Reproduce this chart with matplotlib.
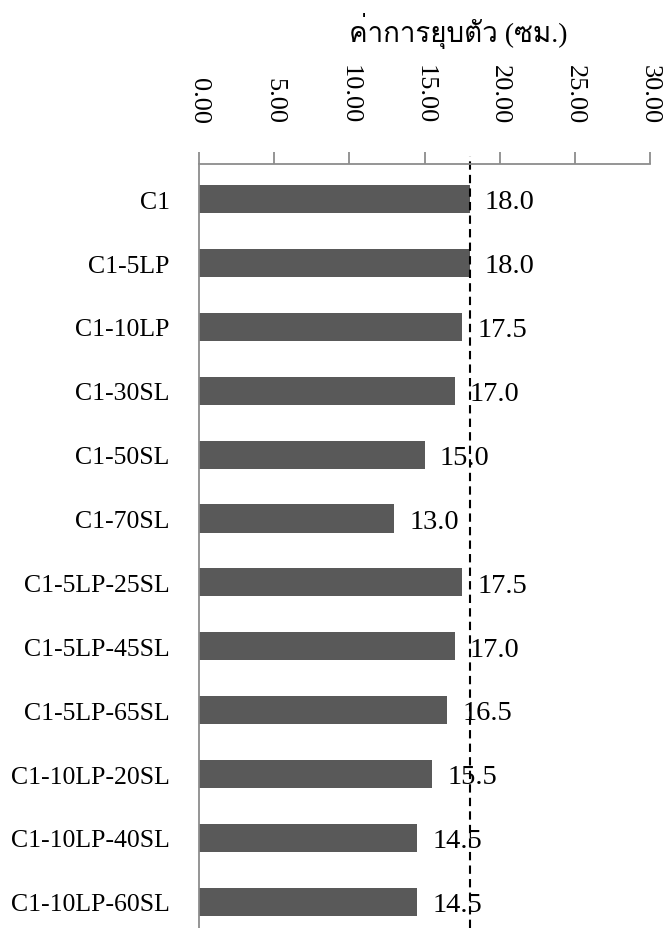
import matplotlib
matplotlib.use("Agg")
import matplotlib.pyplot as plt
from matplotlib import font_manager
from matplotlib.ft2font import FT2Font

labels = ["C1", "C1-5LP", "C1-10LP", "C1-30SL", "C1-50SL", "C1-70SL",
          "C1-5LP-25SL", "C1-5LP-45SL", "C1-5LP-65SL",
          "C1-10LP-20SL", "C1-10LP-40SL", "C1-10LP-60SL"]
slump = [18.0, 18.0, 17.5, 17.0, 15.0, 13.0, 17.5, 17.0, 16.5, 15.5, 14.5, 14.5]
xticks = [0, 5, 10, 15, 20, 25, 30]
limit = 18.0
title = "ค่าการยุบตัว (ซม.)"


def thai_family():
    # first installed font that has Thai glyphs
    for f in font_manager.fontManager.ttflist:
        try:
            if 0x0E04 in FT2Font(f.fname).get_charmap():
                return f.name
        except Exception:
            pass
    return "DejaVu Sans"


serif = "Liberation Serif"
plt.rcParams["font.family"] = [serif, "DejaVu Serif"]

fig = plt.figure(figsize=(6.71, 9.29), dpi=100)
ax = fig.add_axes([199 / 671, 0.0, 451 / 671, 764 / 929])

y = list(range(len(labels)))
ax.barh(y, slump, height=0.44, color="#595959")
ax.set_ylim(len(labels) - 1 + 0.41, -0.55)
ax.set_xlim(0, 30)

ax.axvline(limit, ymin=0, ymax=1.011, clip_on=False, color="black",
           linestyle=(0, (4, 2.5)), linewidth=1.5)

for yi, v in zip(y, slump):
    ax.annotate(f"{v:.1f}", (v, yi), xytext=(11, -2), textcoords="offset points",
                ha="left", va="center", fontsize=20.5)

ax.xaxis.tick_top()
ax.set_xticks(xticks)
ax.set_xticklabels([f"{t:.2f}" for t in xticks], rotation=-90, fontsize=19)
ax.tick_params(axis="x", direction="out", length=8.5, width=1.3,
               color="#8c8c8c", pad=21)
ax.set_yticks(y)
ax.set_yticklabels(labels, fontsize=18.5)
ax.tick_params(axis="y", length=0, pad=21)

for side in ["right", "bottom"]:
    ax.spines[side].set_visible(False)
for side in ["top", "left"]:
    ax.spines[side].set_color("#8c8c8c")
    ax.spines[side].set_linewidth(1.3)

fig.text(458 / 671, 1 - 31 / 929, title, ha="center", va="center",
         fontsize=20, family=[serif, thai_family()])

fig.savefig("out.png", dpi=100, facecolor="white")
